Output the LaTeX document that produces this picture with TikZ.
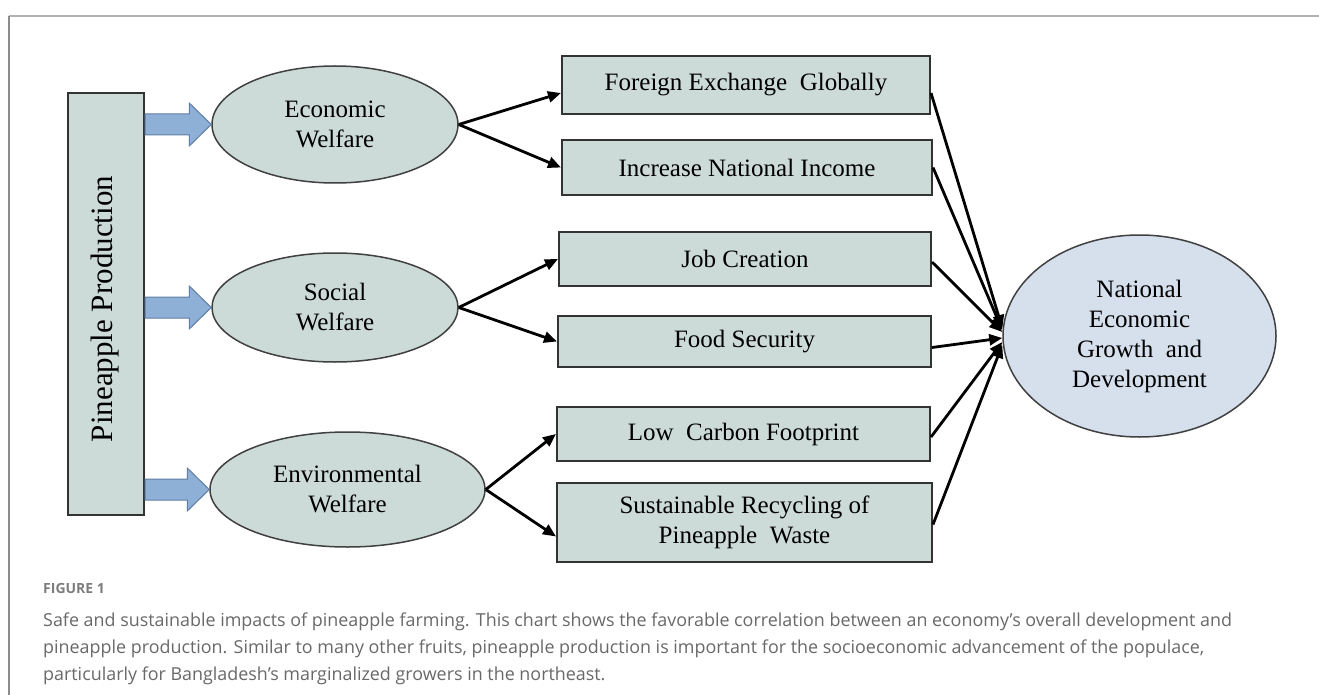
\documentclass[tikz,border=0pt]{standalone}
\usepackage{fontspec}
\setmainfont{Liberation Serif}
\newfontfamily\capfont{Open Sans}
\usetikzlibrary{arrows.meta,shapes.geometric,calc}
\definecolor{boxfill}{RGB}{205,219,216}
\definecolor{natfill}{RGB}{213,224,236}
\definecolor{arrfill}{RGB}{143,176,214}
\definecolor{arrline}{RGB}{95,125,165}
\definecolor{capgray}{RGB}{105,105,105}
\definecolor{figgray}{RGB}{125,125,125}
\tikzset{
  diagtext/.style={font=\fontsize{25}{30}\selectfont, align=center, inner sep=0pt},
  rectbox/.style={diagtext, rectangle, draw=black!80, line width=2pt, fill=boxfill},
  welfare/.style={diagtext, ellipse, draw=black!75, line width=1.5pt, fill=boxfill},
  natnode/.style={diagtext, ellipse, draw=black!75, line width=1.5pt, fill=natfill},
  conn/.style={line width=2.8pt, black, -{Triangle[length=13pt,width=11pt]}},
  fatarrowstyle/.style={fill=arrfill, draw=arrline, line width=1pt, line join=miter},
  captext/.style={font=\capfont\fontsize{17.9}{20}\selectfont, text=capgray, anchor=base west, inner sep=0pt}
}
\newcommand\fatarrow[2]{%
  \draw[fatarrowstyle] let \p1=(#1.east), \p2=(#2.west) in
  (\x1,{\y2+10.5pt}) -- ({\x2-22pt},{\y2+10.5pt}) -- ({\x2-22pt},{\y2+21.5pt}) -- (\x2,\y2)
  -- ({\x2-22pt},{\y2-21.5pt}) -- ({\x2-22pt},{\y2-10.5pt}) -- (\x1,{\y2-10.5pt}) -- cycle;}
\begin{document}
\begin{tikzpicture}[x=1pt,y=-1pt]
\useasboundingbox (0,0) rectangle (1319,695);
\fill[white] (0,0) rectangle (1319,695);
% frame
\draw[black!30, line width=2pt] (9,16) -- (1319,16);
\draw[black!45, line width=1.2pt] (9,16) -- (9,695);

% nodes
\node[rectbox, minimum width=76pt, minimum height=422pt] (P) at (106,304) {};
\node[diagtext, rotate=90, font=\fontsize{31}{34}\selectfont] (Ptext) at (105,309) {Pineapple Production};

\node[welfare, minimum width=246pt, minimum height=117pt] (E1) at (335,124.5) {Economic\\Welfare};
\node[welfare, minimum width=246pt, minimum height=109pt] (E2) at (335,307.5) {Social\\Welfare};
\node[welfare, minimum width=275pt, minimum height=115pt] (E3) at (347.5,489.5) {Environmental\\Welfare};

\node[rectbox, minimum width=368pt, minimum height=58pt] (B1) at (746,85) {Foreign Exchange\ \ Globally};
\node[rectbox, minimum width=370pt, minimum height=55pt] (B2) at (747,167.5) {Increase National Income};
\node[rectbox, minimum width=372pt, minimum height=54pt] (B3) at (745,259) {Job Creation};
\node[rectbox, minimum width=373pt, minimum height=51pt] (B4) at (744.5,341.5) {Food Security};
\node[rectbox, minimum width=373pt, minimum height=54pt] (B5) at (743.5,434) {Low\ \ Carbon Footprint};
\node[rectbox, minimum width=375pt, minimum height=79pt] (B6) at (744.5,522.5) {Sustainable Recycling of\\Pineapple\ \ Waste};

\node[natnode, minimum width=273pt, minimum height=202pt] (N) at (1139.5,336) {National\\Economic\\Growth\ \ and\\Development};

% block arrows
\fatarrow{P}{E1}
\fatarrow{P}{E2}
\fatarrow{P}{E3}

% welfare to boxes
\draw[conn] (E1.east) -- ([yshift=-8pt]B1.west);
\draw[conn] (E1.east) -- (B2.west);
\draw[conn] (E2.east) -- (B3.west);
\draw[conn] (E2.east) -- (B4.west);
\draw[conn] (E3.east) -- (B5.west);
\draw[conn] (E3.east) -- ([yshift=-14pt]B6.west);

% boxes to national
\draw[conn] ([yshift=-8pt]B1.east) -- ([yshift=8pt]N.west);
\draw[conn] (B2.east) -- ([yshift=6pt]N.west);
\draw[conn] ([yshift=-3pt]B3.east) -- ([yshift=4pt]N.west);
\draw[conn] ([yshift=-6pt]B4.east) -- ([yshift=-2pt]N.west);
\draw[conn] ([yshift=-3pt]B5.east) -- ([yshift=-6pt]N.west);
\draw[conn] ([yshift=-2pt]B6.east) -- ([yshift=-9pt]N.west);

% caption
\node[captext, font=\capfont\bfseries\fontsize{14}{16}\selectfont, text=figgray] (fig) at (43,593) {FIGURE 1};
\node[captext] (c1) at (43,626) {Safe and sustainable impacts of pineapple farming. This chart shows the favorable correlation between an economy’s overall development and};
\node[captext] (c2) at (43,653) {pineapple production. Similar to many other fruits, pineapple production is important for the socioeconomic advancement of the populace,};
\node[captext] (c3) at (43,680) {particularly for Bangladesh’s marginalized growers in the northeast.};
\end{tikzpicture}
\end{document}
